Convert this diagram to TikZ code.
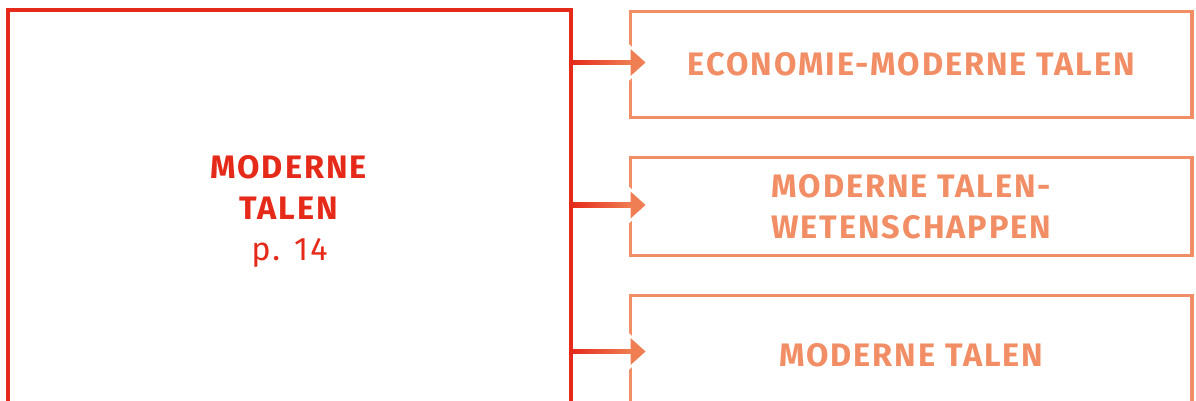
\documentclass[tikz,border=0pt]{standalone}
\usepackage{fontspec}
\setmainfont[LetterSpace=6]{Fira Sans}
\usetikzlibrary{positioning,calc}
\definecolor{talenred}{HTML}{E52A1A}
\definecolor{talenorange}{HTML}{F28E65}
\definecolor{talenarrow}{HTML}{EF7F52}
\tikzset{
  hoofdbox/.style={draw=talenred, line width=3.5pt, outer sep=0pt, inner sep=0pt,
    minimum width=563pt, text=talenred, align=center, font=\fontsize{32.5}{41}\selectfont},
  richting/.style={draw=talenorange, line width=3.5pt, outer sep=0pt, inner sep=0pt,
    minimum width=561.5pt, text=talenorange, align=center, font=\bfseries\fontsize{32.5}{41}\selectfont}
}

\begin{document}
\begin{tikzpicture}[x=1pt,y=-1pt]
\clip (0,0) rectangle (1196,401);
\node[hoofdbox, minimum height=403pt, anchor=north west] (talen) at (8,10) {\textbf{MODERNE}\\\textbf{TALEN}\\p. 14};
\node[richting, minimum height=106pt, anchor=north west] (eco) at (630.5,11.5) {ECONOMIE-MODERNE TALEN};
\node[richting, minimum height=98pt, below=40pt of eco] (mtw) {MODERNE TALEN-\\WETENSCHAPPEN};
\node[richting, minimum height=120pt, below=40pt of mtw] (mt) {MODERNE TALEN};

% pijlen naar de richtingen
\foreach \doel/\dy in {eco/-2, mtw/-1.5, mt/-4}{
  \coordinate (punt) at ($(\doel.west)+(0,\dy)$);
  \draw[white, line width=5pt] ($(punt)+(0,-13.5)$) -- ++(15,13.5) -- ++(-15,13.5) -- cycle;
  \shade[left color=talenred, right color=talenarrow] ($(talen.east|-punt)+(0,-2.3)$) rectangle ($(punt)+(1,2.3)$);
  \fill[talenarrow] ($(punt)+(0,-13.5)$) -- ++(15,13.5) -- ++(-15,13.5) -- cycle;
}
\end{tikzpicture}
\end{document}
